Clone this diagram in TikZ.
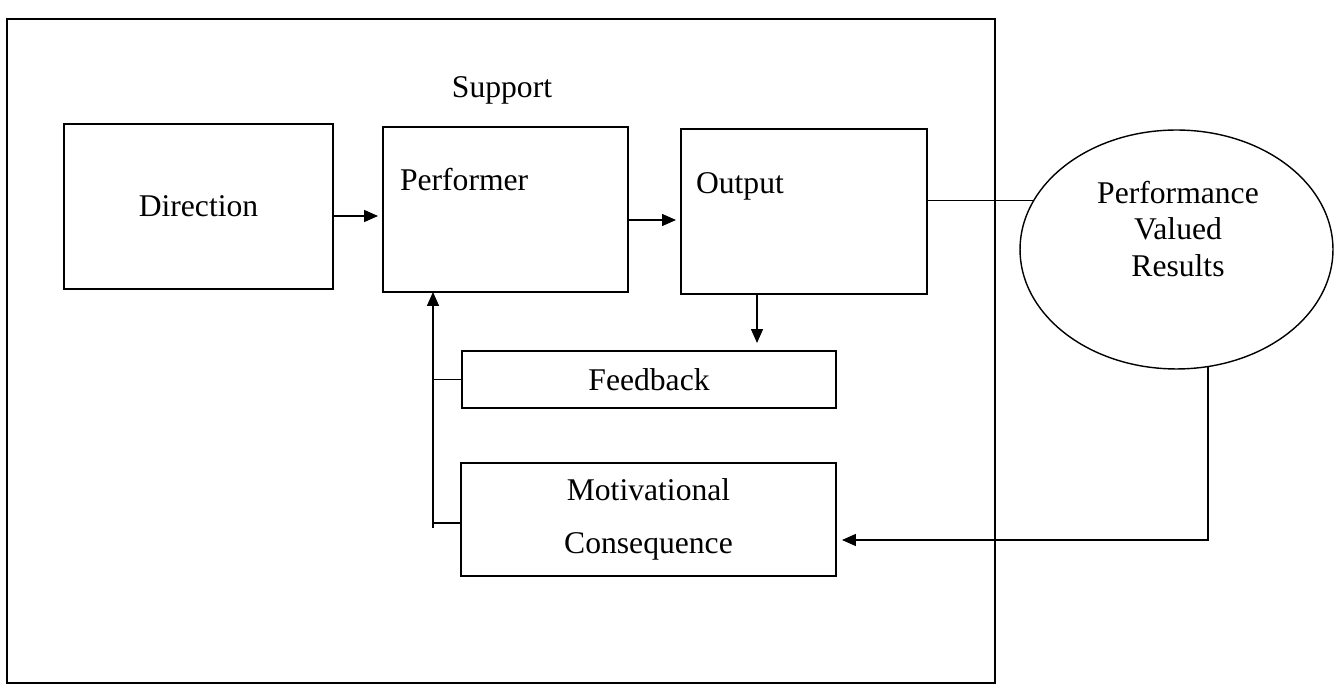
\documentclass[tikz,border=0pt]{standalone}
\usepackage{fontspec}
\setmainfont{Liberation Serif}
\usetikzlibrary{arrows.meta,shapes.geometric}

\begin{document}
\begin{tikzpicture}[x=0.02cm,y=-0.02cm,inner sep=0pt,outer sep=0pt,line width=0.8pt,
>={Triangle[length=0.28cm,width=0.24cm]},
every node/.style={font=\fontsize{18}{21}\selectfont},
blockbox/.style={draw,rectangle,line width=0.8pt},
resultell/.style={draw,ellipse,line width=0.8pt,minimum width=6.26cm,minimum height=4.78cm}]

\useasboundingbox (0,0) rectangle (1343,688);
\draw (7,19) rectangle (995,683);

\draw (502,98) node[anchor=base] (supp) {Support};
\draw (198.5,206.5) node[blockbox,minimum width=5.38cm,minimum height=3.3cm] (dir) {Direction};
\draw (505.5,209.5) node[blockbox,minimum width=4.9cm,minimum height=3.3cm] (perf) {};
\draw (400,191) node[anchor=base west] (perftxt) {Performer};
\draw (804,211.5) node[blockbox,minimum width=4.92cm,minimum height=3.3cm] (outp) {};
\draw (696,194) node[anchor=base west] (outptxt) {Output};
\draw (649,379.5) node[blockbox,minimum width=7.48cm,minimum height=1.14cm] (fb) {Feedback};
\draw (648.5,519.5) node[blockbox,minimum width=7.5cm,minimum height=2.26cm,align=center] (mc) {Motivational\\[9pt]Consequence};
\draw (1176.5,249.5) node[resultell] (vr) {};
\draw (1178,229) node[align=center] (vrtxt) {Performance\\Valued\\Results};
\coordinate (fbk) at (433,528);

\draw[->,shorten >=0.1cm] (dir.east |- 0,216) -- (perf.west |- 0,216);
\draw[->,shorten >=0.1cm] (perf.east |- 0,220) -- (outp.west |- 0,220);
\draw[->,shorten >=0.16cm] (outp.south -| 757,0) -- (fb.north -| 757,0);
\draw[->] (fbk) -- (perf.south -| fbk);
\draw (fb.west) -- (fb.west -| fbk);
\draw (mc.west |- 0,523) -- (fbk |- 0,523);
\draw (outp.east |- vr.161) -- (vr.161);
\draw[->,shorten >=0.12cm] (vr.-75) |- (mc.east |- 0,540);
\end{tikzpicture}
\end{document}
